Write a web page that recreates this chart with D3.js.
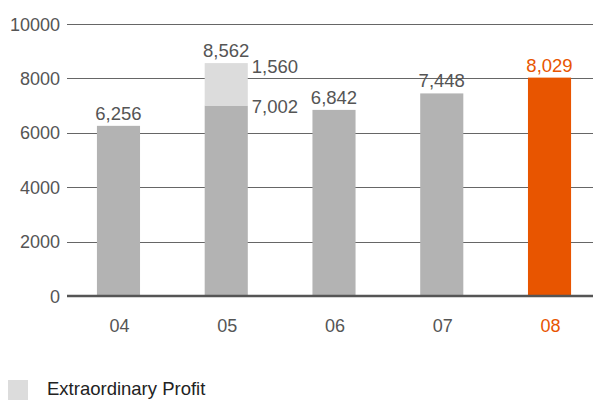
<!DOCTYPE html>
<html><head><meta charset="utf-8">
<script src="https://cdn.jsdelivr.net/npm/d3@7"></script>
<style>body{margin:0;background:#fff}svg{display:block}text{font-family:"Liberation Sans",Arial,Helvetica,sans-serif}</style>
</head><body><svg id="c" width="593" height="400"></svg>
<script>
const categories = ["04","05","06","07","08"];
const ordinaryValues = [6256, 7002, 6842, 7448, 8029];
const extraordinaryValues = [0, 1560, 0, 0, 0];
const totalLabels = ["6,256","8,562","6,842","7,448","8,029"];
const yTicks = [0,2000,4000,6000,8000,10000];
const legendLabel = "Extraordinary Profit";

const svg = d3.select("#c");
const x = d3.scaleBand().domain(categories).range([64.6,603.4]).paddingInner(0.6).paddingOuter(0.3);
const y = d3.scaleLinear().domain([0,10000]).range([296,24]);
const gray="#b3b3b3", light="#dcdcdc", orange="#e85500", textC="#555";

// grid
svg.append("g").selectAll("line").data(yTicks.filter(d=>d>0)).join("line")
  .attr("x1",67).attr("x2",593).attr("y1",d=>Math.round(y(d))+0.5).attr("y2",d=>Math.round(y(d))+0.5)
  .attr("stroke","#666").attr("stroke-width",1);
// y labels
svg.append("g").selectAll("text").data(yTicks).join("text")
  .attr("x",60).attr("y",d=>y(d)+6.5).attr("text-anchor","end").attr("font-size",18).attr("fill",textC).text(d=>d);

const idx = categories.map((c,i)=>i);
// bars
svg.append("g").selectAll("rect").data(idx).join("rect")
  .attr("x",i=>x(categories[i])).attr("width",x.bandwidth())
  .attr("y",i=>y(ordinaryValues[i])).attr("height",i=>y(0)-y(ordinaryValues[i]))
  .attr("fill",i=>i===4?orange:gray);
svg.append("g").selectAll("rect").data(idx.filter(i=>extraordinaryValues[i]>0)).join("rect")
  .attr("x",i=>x(categories[i])).attr("width",x.bandwidth())
  .attr("y",i=>y(ordinaryValues[i]+extraordinaryValues[i])).attr("height",i=>y(ordinaryValues[i])-y(ordinaryValues[i]+extraordinaryValues[i]))
  .attr("fill",light);
// baseline
svg.append("line").attr("x1",67).attr("x2",593).attr("y1",y(0)).attr("y2",y(0)).attr("stroke","#555").attr("stroke-width",2.5);

// value labels
svg.append("g").selectAll("text").data(idx).join("text")
  .attr("x",i=>x(categories[i])+x.bandwidth()/2)
  .attr("y",i=>y(ordinaryValues[i]+extraordinaryValues[i])-6)
  .attr("text-anchor","middle").attr("font-size",18.5).attr("fill",i=>i===4?orange:textC)
  .text(i=>totalLabels[i]);
// split labels for 05
idx.filter(i=>extraordinaryValues[i]>0).forEach(i=>{
  const xr = x(categories[i])+x.bandwidth()+4;
  svg.append("text").attr("x",xr).attr("y",y(ordinaryValues[i]+extraordinaryValues[i])+10).attr("font-size",18.5).attr("fill",textC)
    .text(d3.format(",")(extraordinaryValues[i]));
  svg.append("text").attr("x",xr).attr("y",y(ordinaryValues[i])+7).attr("font-size",18.5).attr("fill",textC)
    .text(d3.format(",")(ordinaryValues[i]));
});
// x labels
svg.append("g").selectAll("text").data(idx).join("text")
  .attr("x",i=>x(categories[i])+x.bandwidth()/2+1).attr("y",332)
  .attr("text-anchor","middle").attr("font-size",18).attr("fill",i=>i===4?orange:textC).text(i=>categories[i]);

// legend
svg.append("rect").attr("x",8).attr("y",380).attr("width",20).attr("height",20).attr("fill",light);
svg.append("text").attr("x",47).attr("y",395).attr("font-size",18.5).attr("fill","#222").text(legendLabel);
</script></body></html>
